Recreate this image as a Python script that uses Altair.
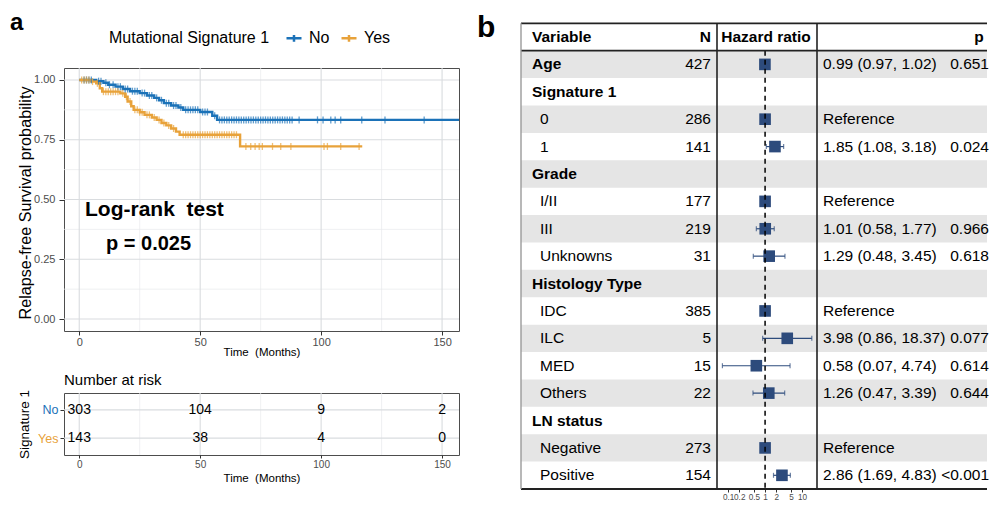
import altair as alt
import pandas as pd
import numpy as np

FONT = "Liberation Sans"
BLUE = "#1B72B8"
ORANGE = "#E8A23A"
NAVY = "#2D4B7C"
GRID_MAJ = "#D9DCDF"
GRID_MIN = "#E8EAEC"
STRIPE = "#E5E5E5"

# ---------------- Panel a : Kaplan-Meier data ----------------
GROUPS = ["No", "Yes"]
NO_T = [0, 7, 10, 12, 15, 18, 21, 25, 28, 31, 33, 35, 38, 41, 43, 50, 55, 57, 157]
NO_S = [1.0, 0.995, 0.988, 0.98, 0.972, 0.962, 0.953, 0.945, 0.935, 0.925, 0.915,
        0.903, 0.893, 0.885, 0.875, 0.866, 0.85, 0.833, 0.833]
YES_T = [0, 5, 7, 8.5, 9.5, 17, 19, 20, 21.5, 22.5, 25, 27, 30, 32, 34, 36, 38, 40,
         41.5, 66.5, 117]
YES_S = [1.0, 0.993, 0.986, 0.965, 0.951, 0.944, 0.93, 0.91, 0.89, 0.875, 0.865,
         0.854, 0.843, 0.833, 0.82, 0.81, 0.797, 0.784, 0.771, 0.722, 0.722]
NO_CENSOR = [2, 3, 4, 5, 8, 9, 11, 12.5, 14, 16, 17, 19, 20, 22, 23, 24, 26, 27, 29,
             30, 32, 34, 36, 37, 39, 40, 42, 44, 45, 46, 47, 48, 49, 51, 52, 53, 56,
             58, 59, 60, 61, 62, 63, 64, 65, 66, 67, 68, 69, 70, 71, 72, 73, 74, 75,
             76, 77, 78, 79, 80, 81, 82, 83, 84, 85, 86, 87, 88, 90.9, 98.5, 100.8,
             104, 105.8, 108.1, 116.8, 126.4, 142.6]
YES_CENSOR = [1, 2, 3, 4, 5.5, 7.5, 10, 11, 12, 13, 14, 15, 16, 18, 19.5, 21, 23, 24,
              25, 26, 28, 29, 31, 33, 35, 37, 39, 43, 44, 45, 46, 47, 48, 49, 50, 51,
              52, 53, 54, 55, 56, 57, 58, 59, 60, 61, 62, 63, 64, 65, 68.9, 70.9,
              72.7, 74.4, 75.7, 79.9, 83.3, 87.5, 101.2, 102.6, 108.1, 115.7]

X_MAJOR = [0, 50, 100, 150]
X_MINOR = [25, 75, 125]
Y_MAJOR = [0, 0.25, 0.5, 0.75, 1.0]
Y_MINOR = [0.125, 0.375, 0.625, 0.875]

RISK_TIMES = [0, 50, 100, 150]
RISK_NO = [303, 104, 9, 2]
RISK_YES = [143, 38, 4, 0]

# ---------------- Panel b : forest table ----------------
VAR_LABELS = ["Age", "Signature 1", "0", "1", "Grade", "I/II", "III", "Unknowns",
              "Histology Type", "IDC", "ILC", "MED", "Others", "LN status",
              "Negative", "Positive"]
IS_GROUP = [1, 1, 0, 0, 1, 0, 0, 0, 1, 0, 0, 0, 0, 1, 0, 0]
N_TEXT = ["427", "", "286", "141", "", "177", "219", "31", "", "385", "5", "15",
          "22", "", "273", "154"]
HR = [0.99, None, 1, 1.85, None, 1, 1.01, 1.29, None, 1, 3.98, 0.58, 1.26, None, 1, 2.86]
LO = [0.97, None, None, 1.08, None, None, 0.58, 0.48, None, None, 0.86, 0.07, 0.47,
      None, None, 1.69]
HI = [1.02, None, None, 3.18, None, None, 1.77, 3.45, None, None, 18.37, 4.74, 3.39,
      None, None, 4.83]
EST_TEXT = ["0.99 (0.97, 1.02)", "", "Reference", "1.85 (1.08, 3.18)", "", "Reference",
            "1.01 (0.58, 1.77)", "1.29 (0.48, 3.45)", "", "Reference",
            "3.98 (0.86, 18.37)", "0.58 (0.07, 4.74)", "1.26 (0.47, 3.39)", "",
            "Reference", "2.86 (1.69, 4.83)"]
P_TEXT = ["0.651", "", "", "0.024", "", "", "0.966", "0.618", "", "", "0.077",
          "0.614", "0.644", "", "", "<0.001"]
HR_TICKS = [0.1, 0.2, 0.5, 1, 2, 5, 10]

# ---------------- tables ----------------
km = pd.concat([
    pd.DataFrame({"time": NO_T, "surv": NO_S, "grp": "No"}),
    pd.DataFrame({"time": YES_T, "surv": YES_S, "grp": "Yes"}),
], ignore_index=True)


def censor_frame(times, step_t, step_s, grp):
    st = np.array(step_t, dtype=float)
    ss = np.array(step_s, dtype=float)
    idx = np.searchsorted(st, np.array(times, dtype=float), side="right") - 1
    return pd.DataFrame({"time": times, "surv": ss[idx], "grp": grp})


cens = pd.concat([censor_frame(NO_CENSOR, NO_T, NO_S, "No"),
                  censor_frame(YES_CENSOR, YES_T, YES_S, "Yes")], ignore_index=True)

risk = pd.concat([
    pd.DataFrame({"time": RISK_TIMES, "n": [str(v) for v in RISK_NO], "grp": "No"}),
    pd.DataFrame({"time": RISK_TIMES, "n": [str(v) for v in RISK_YES], "grp": "Yes"}),
], ignore_index=True)

rows = pd.DataFrame({"label": VAR_LABELS, "group": IS_GROUP, "n": N_TEXT, "hr": HR,
                     "lo": LO, "hi": HI, "est": EST_TEXT, "p": P_TEXT})
rows["idx"] = np.arange(1, len(rows) + 1)
rows["y0"] = rows["idx"]
rows["y1"] = rows["idx"] + 1
rows["ym"] = rows["idx"] + 0.5
stripes = rows[rows["idx"] % 2 == 1]
ci = rows.dropna(subset=["lo"])
caps = pd.concat([ci[["ym", "lo"]].rename(columns={"lo": "v"}),
                  ci[["ym", "hi"]].rename(columns={"hi": "v"})], ignore_index=True)
pts = rows.dropna(subset=["hr"])

one = pd.DataFrame({"k": [0]})


def txt(text, x, y, size, weight="normal", align="left", baseline="alphabetic",
        color="black"):
    return alt.Chart(one).mark_text(text=text, fontSize=size, fontWeight=weight,
                                    align=align, baseline=baseline, color=color
                                    ).encode(x=alt.value(x), y=alt.value(y))


def spacer(x, y):
    return alt.Chart(one).mark_rule(opacity=0).encode(
        x=alt.value(x), x2=alt.value(x + 1), y=alt.value(y))


# ---------------- KM panel ----------------
W_A, H_KM, H_R = 395, 263, 62
xs = alt.Scale(domain=[-6.3, 157], nice=False, zero=False)
ys = alt.Scale(domain=[-0.05, 1.05], nice=False, zero=False)
cscale = alt.Scale(domain=GROUPS, range=[BLUE, ORANGE])

km_xaxis = alt.Axis(
    values=X_MAJOR, grid=False, domain=False, tickSize=4, tickColor="#333333",
    labelFontSize=11, labelColor="#4D4D4D", labelPadding=1,
    title="Time\u00a0\u00a0(Months)", titleFontSize=11.5, titleFontWeight="normal",
    titleColor="black", titleY=24.5, titleBaseline="alphabetic")
km_yaxis = alt.Axis(
    values=Y_MAJOR, format=".2f", grid=False, domain=False, tickSize=5,
    tickColor="#333333", labelFontSize=11, labelColor="#4D4D4D", labelPadding=4,
    title="Relapse-free Survival probability", titleFontSize=16.2,
    titleFontWeight="normal", titleColor="black", titleX=-47, titleY=134.5,
    titleAngle=270, titleAlign="center", titleBaseline="top")


def vgrid(vals, scale, axis, h, color, w):
    return alt.Chart(pd.DataFrame({"v": vals})).mark_rule(color=color, strokeWidth=w).encode(
        x=alt.X("v:Q", scale=scale, axis=axis), y=alt.value(0), y2=alt.value(h))


def hgrid(vals, scale, axis, wdt, color, w, typ="Q"):
    return alt.Chart(pd.DataFrame({"v": vals})).mark_rule(color=color, strokeWidth=w).encode(
        y=alt.Y("v:" + typ, scale=scale, axis=axis), x=alt.value(0), x2=alt.value(wdt))


km_lines = alt.Chart(km).mark_line(interpolate="step-after", strokeWidth=2.4).encode(
    x=alt.X("time:Q", scale=xs, axis=km_xaxis),
    y=alt.Y("surv:Q", scale=ys, axis=km_yaxis),
    color=alt.Color("grp:N", scale=cscale, legend=alt.Legend(
        orient="none", legendX=45, legendY=-39, direction="horizontal",
        title="Mutational Signature 1", titleOrient="left", titleFontSize=16,
        titleFontWeight="normal", titleColor="black", titlePadding=15,
        labelFontSize=16, labelColor="black", labelOffset=6, columnPadding=6,
        symbolType="M-1,0H1M0,-0.45V0.45", symbolSize=225, symbolStrokeWidth=2.5,
        padding=0)),
)
km_cens = alt.Chart(cens).mark_tick(orient="vertical", size=7, thickness=1.3).encode(
    x=alt.X("time:Q", scale=xs, axis=km_xaxis),
    y=alt.Y("surv:Q", scale=ys, axis=km_yaxis),
    color=alt.Color("grp:N", scale=cscale, legend=None),
)

km_chart = alt.layer(
    vgrid(X_MINOR, xs, km_xaxis, H_KM, GRID_MIN, 0.7),
    hgrid(Y_MINOR, ys, km_yaxis, W_A, GRID_MIN, 0.7),
    vgrid(X_MAJOR, xs, km_xaxis, H_KM, GRID_MAJ, 1.1),
    hgrid(Y_MAJOR, ys, km_yaxis, W_A, GRID_MAJ, 1.1),
    km_lines,
    km_cens,
    txt("Log-rank\u00a0\u00a0test", 21, 148, 21, "bold"),
    txt("p = 0.025", 42, 182, 20, "bold"),
    txt("a", -54, -38.2, 24, "bold"),
    spacer(-55.5, -59),
).properties(width=W_A, height=H_KM,
             view=alt.ViewBackground(stroke="#4D4D4D", strokeWidth=1))

# ---------------- risk table ----------------
ry = alt.Scale(type="point", domain=GROUPS, padding=0.6)
risk_xaxis = alt.Axis(
    values=X_MAJOR, grid=False, domain=False, tickSize=3, tickColor="#333333",
    labelFontSize=10, labelColor="#4D4D4D", labelPadding=1,
    title="Time\u00a0\u00a0(Months)", titleFontSize=11.5, titleFontWeight="normal",
    titleColor="black", titleY=26, titleBaseline="alphabetic")
risk_yaxis = alt.Axis(
    grid=False, domain=False, tickSize=4, tickColor="#333333", labelFontSize=12.5,
    labelColor={"condition": {"test": "datum.value == 'No'", "value": BLUE},
                "value": ORANGE},
    labelPadding=2, title="Signature 1", titleFontSize=13.5,
    titleFontWeight="normal", titleColor="black", titleX=-47, titleY=31,
    titleAngle=270, titleAlign="center", titleBaseline="top")

risk_text = alt.Chart(risk).mark_text(fontSize=14, color="black").encode(
    x=alt.X("time:Q", scale=xs, axis=risk_xaxis),
    y=alt.Y("grp:N", scale=ry, axis=risk_yaxis),
    text="n:N",
)
risk_chart = alt.layer(
    vgrid(X_MINOR, xs, risk_xaxis, H_R, GRID_MIN, 0.7),
    vgrid(X_MAJOR, xs, risk_xaxis, H_R, GRID_MAJ, 1.1),
    hgrid(GROUPS, ry, risk_yaxis, W_A, GRID_MAJ, 1.1, "N"),
    risk_text,
    txt("Number at risk", 0, -8, 15),
).properties(width=W_A, height=H_R,
             view=alt.ViewBackground(stroke="#4D4D4D", strokeWidth=1))

panel_a = alt.vconcat(km_chart, risk_chart, spacing=62, bounds="flush"
                      ).resolve_scale(color="independent")

# ---------------- forest panel ----------------
W_B, H_B = 466, 421
FS = 15.5
yb = alt.Scale(domain=[0, 17], range=[-44.7, 421], nice=False, zero=False)
xb = alt.Scale(type="log", domain=[0.05, 25.4], range=[196, 296], nice=False)
hr_axis = alt.Axis(values=HR_TICKS, format="~g", grid=False, domain=False, tickSize=3,
                   tickColor="#333333", labelFontSize=8.2, labelColor="#4D4D4D",
                   labelPadding=1, title="", labelOverlap=False, labelFlush=False)

stripe_l = alt.Chart(stripes).mark_rect(color=STRIPE).encode(
    y=alt.Y("y0:Q", scale=yb, axis=None), y2="y1:Q", x=alt.value(0), x2=alt.value(W_B))


def col_text(df, x, align, weight="normal", field="label"):
    return alt.Chart(df).mark_text(fontSize=FS, fontWeight=weight, align=align,
                                   baseline="middle", color="black").encode(
        y=alt.Y("ym:Q", scale=yb, axis=None), x=alt.value(x), text=field + ":N")


header = pd.DataFrame({"ym": [0.5]})


def head(text, x, align):
    return alt.Chart(header).mark_text(text=text, fontSize=FS, fontWeight="bold",
                                       align=align, baseline="middle", color="black"
                                       ).encode(y=alt.Y("ym:Q", scale=yb, axis=None),
                                                x=alt.value(x))


ci_rules = alt.Chart(ci).mark_rule(color=NAVY, strokeWidth=1.2).encode(
    x=alt.X("lo:Q", scale=xb, axis=hr_axis), x2="hi:Q",
    y=alt.Y("ym:Q", scale=yb, axis=None))
ci_caps = alt.Chart(caps).mark_tick(orient="vertical", size=5, thickness=1.2,
                                    color=NAVY).encode(
    x=alt.X("v:Q", scale=xb, axis=hr_axis), y=alt.Y("ym:Q", scale=yb, axis=None))
squares = alt.Chart(pts).mark_square(size=135, color=NAVY, opacity=1).encode(
    x=alt.X("hr:Q", scale=xb, axis=hr_axis), y=alt.Y("ym:Q", scale=yb, axis=None))
ref_line = alt.Chart(pd.DataFrame({"x": [1], "y0": [1], "y1": [17]})).mark_rule(
    color="black", strokeWidth=1.5, strokeDash=[5, 4]).encode(
    x=alt.X("x:Q", scale=xb, axis=hr_axis), y=alt.Y("y0:Q", scale=yb, axis=None),
    y2="y1:Q")

hlines = alt.Chart(pd.DataFrame({"y": [0, 1, 17]})).mark_rule(
    color="#222222", strokeWidth=1.8).encode(
    y=alt.Y("y:Q", scale=yb, axis=None), x=alt.value(0), x2=alt.value(W_B))

span = pd.DataFrame({"y0": [0], "y1": [17]})


def vline(x, color, w):
    return alt.Chart(span).mark_rule(color=color, strokeWidth=w).encode(
        x=alt.value(x), y=alt.Y("y0:Q", scale=yb, axis=None), y2="y1:Q")


forest = alt.layer(
    stripe_l,
    col_text(rows[rows["group"] == 1], 11, "left", "bold"),
    col_text(rows[rows["group"] == 0], 19, "left"),
    col_text(rows, 190, "right", field="n"),
    col_text(rows, 302, "left", field="est"),
    col_text(rows, 468, "right", field="p"),
    head("Variable", 11, "left"),
    head("N", 190, "right"),
    head("Hazard ratio", 245, "center"),
    head("p", 458, "center"),
    ci_rules, ci_caps, squares, ref_line,
    hlines,
    vline(196, "#222222", 1.6),
    vline(296, "#222222", 1.6),
    vline(0, "#9A9A9A", 1.4),
    txt("b", -44, -31.5, 30, "bold"),
).properties(width=W_B, height=H_B,
             view=alt.ViewBackground(strokeOpacity=0))

chart = alt.hconcat(panel_a, forest, spacing=12).resolve_scale(
    color="independent").properties(padding=0).configure(font=FONT)

chart.save("out.html", embed_options={"renderer": "svg", "actions": False})
